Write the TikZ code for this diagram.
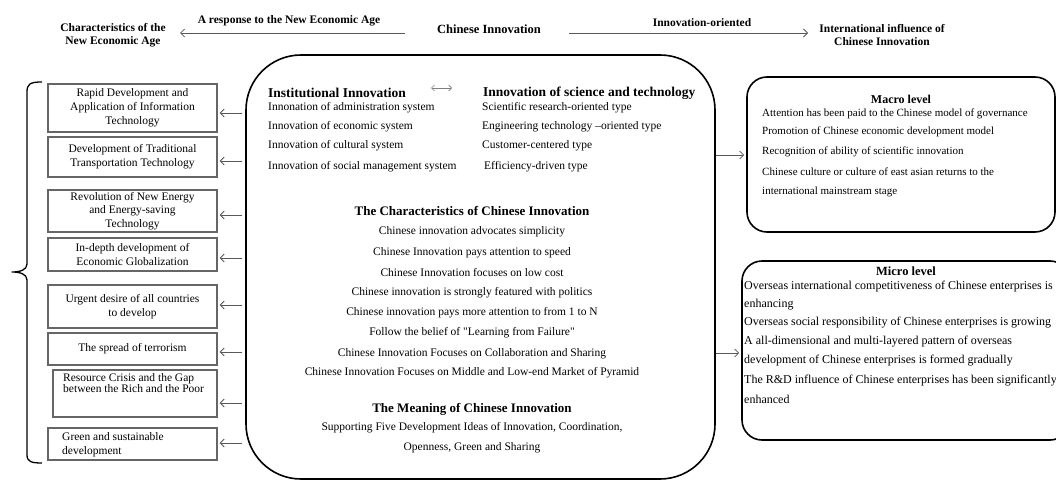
\documentclass[tikz,border=0pt]{standalone}
\usepackage{fontspec}
\setmainfont{Liberation Serif}
\newfontfamily\qfont{Liberation Serif}[Ligatures=TeXOff]
\usetikzlibrary{arrows.meta,calc}
\begin{document}
\begin{tikzpicture}[x=1pt,y=-1pt,
  arr/.style={draw=black!65, line width=0.8pt, -{Straight Barb[length=4pt,width=8pt]}},
  lbox/.style={draw=black!60, line width=1.3pt, minimum width=169pt, inner sep=1pt, align=center, font=\fontsize{11.5}{14}\selectfont},
  hdr/.style={font=\bfseries\fontsize{11.5}{13}\selectfont, align=center, inner sep=0pt},
  txt/.style={font=\fontsize{11.5}{13}\selectfont, inner sep=0pt},
  ttl/.style={font=\bfseries\fontsize{13.5}{14}\selectfont, inner sep=0pt},
  rbox/.style={draw=black, line width=1.6pt, rounded corners=20pt, inner sep=0pt}
]
\useasboundingbox (0,0) rectangle (1056,481);

% header
\node[hdr] (nea) at (113,35) {Characteristics of the\\New Economic Age};
\node[hdr, font=\bfseries\fontsize{12.5}{13}\selectfont] (ci) at (489,29) {Chinese Innovation};
\node[hdr] (iici) at (882,35) {International influence of\\Chinese Innovation};
\node[hdr] (lab1) at (289,21) {A response to the New Economic Age};
\node[hdr] (lab2) at (702,23) {Innovation-oriented};
\coordinate (a1s) at (405,33);
\coordinate (a1e) at (180,33);
\coordinate (a2s) at (569,33);
\coordinate (a2e) at (808,33);
\draw[arr] (a1s) -- (a1e);
\draw[arr] (a2s) -- (a2e);

% brace
\draw[line width=1.3pt, line join=round] (42,82) .. controls (30,82) and (27,84) .. (27,92) -- (27,264) .. controls (27,270) and (20,272) .. (12,272) .. controls (20,272) and (27,274) .. (27,280) -- (27,455) .. controls (27,462) and (32,463) .. (42,463);

% left boxes
\node[lbox, minimum height=48pt] (b1) at (132.5,108) {Rapid Development and\\Application of Information\\Technology};
\node[lbox, minimum height=40pt] (b2) at (132.5,157) {Development of Traditional\\Transportation Technology};
\node[lbox, minimum height=42pt, font=\fontsize{11.5}{13.5}\selectfont] (b3) at (132.5,211) {Revolution of New Energy\\and Energy-saving\\Technology};
\node[lbox, minimum height=33pt] (b4) at (132.5,254.5) {In-depth development of\\Economic Globalization};
\node[lbox, minimum height=43pt] (b5) at (132.5,306.5) {Urgent desire of all countries\\to develop};
\node[lbox, minimum height=32pt] (b6) at (132.5,349) {The spread of terrorism};
\node[lbox, minimum height=47pt, minimum width=164pt] (b7) at (135,393.5) {};
\node[txt, anchor=north west, align=left, font=\fontsize{11.5}{11.5}\selectfont] (b7t) at (63,373) {Resource Crisis and the Gap\\between the Rich and the Poor};
\node[lbox, minimum height=32pt] (b8) at (132.5,444) {};
\node[txt, anchor=north west, align=left, font=\fontsize{11.5}{14}\selectfont] (b8t) at (62,432) {Green and sustainable\\development};

% center box
\node[draw=black, line width=1.6pt, rounded corners=55pt, minimum width=469pt, minimum height=424pt, inner sep=0pt] (cb) at (480.5,267) {};

\foreach \b/\d in {b1/5,b2/4,b3/4,b4/3.5,b5/-1.5,b6/3,b7/9.5,b8/-1}{
  \draw[arr] ($(cb.west |- \b.east)+(-3,\d)$) -- ($(\b.east)+(2,\d)$);
}

% center contents
\node[ttl, anchor=west] (ii) at (268,93) {Institutional Innovation};
\node[ttl, anchor=west] (ist) at (483,93) {Innovation of science and technology};
\coordinate (dl) at (431,88);
\coordinate (dr) at (452,88);
\draw[draw=black!50, line width=0.7pt, {Straight Barb[length=3pt,width=6pt]}-{Straight Barb[length=3pt,width=6pt]}] (dl) -- (dr);
\node[txt, anchor=west] (ii1) at (268,108) {Innonation of administration system};
\node[txt, anchor=west] (ii2) at (268,127) {Innovation of economic system};
\node[txt, anchor=west] (ii3) at (268,146) {Innovation of cultural system};
\node[txt, anchor=west] (ii4) at (268,167) {Innovation of social management system};
\node[txt, anchor=west] (is1) at (482,108) {Scientific research-oriented type};
\node[txt, anchor=west] (is2) at (482,127) {Engineering technology --oriented type};
\node[txt, anchor=west] (is3) at (482,146) {Customer-centered type};
\node[txt, anchor=west] (is4) at (484,167) {Efficiency-driven type};

\node[ttl, font=\bfseries\fontsize{13}{14}\selectfont] (ch) at (472,211) {The Characteristics of Chinese Innovation};
\node[txt] (c1) at (472,232) {Chinese innovation advocates simplicity};
\node[txt] (c2) at (472,253) {Chinese Innovation pays attention to speed};
\node[txt] (c3) at (472,273) {Chinese Innovation focuses on low cost};
\node[txt] (c4) at (472,293) {Chinese innovation is strongly featured with politics};
\node[txt] (c5) at (472,313) {Chinese innovation pays more attention to from 1 to N};
\node[txt] (c6) at (472,333) {Follow the belief of {\qfont"}Learning from Failure{\qfont"}};
\node[txt] (c7) at (472,354) {Chinese Innovation Focuses on Collaboration and Sharing};
\node[txt] (c8) at (472,373) {Chinese Innovation Focuses on Middle and Low-end Market of Pyramid};
\node[ttl, font=\bfseries\fontsize{13}{14}\selectfont] (me) at (472,409) {The Meaning of Chinese Innovation};
\node[txt] (m1) at (472,428) {Supporting Five Development Ideas of Innovation, Coordination,};
\node[txt] (m2) at (472,448) {Openness, Green and Sharing};

% right boxes
\node[rbox, minimum width=308pt, minimum height=155pt] (mac) at (901,154.5) {};
\node[rbox, minimum width=328pt, minimum height=179pt] (mic) at (906,350.5) {};
\draw[arr] (cb.east |- 0,155) -- ($(mac.west |- 0,155)+(-2,0)$);
\draw[arr] (cb.east |- 0,353) -- ($(mic.west |- 0,353)+(-2,0)$);

\node[ttl, font=\bfseries\fontsize{12}{14}\selectfont] (mact) at (901,99) {Macro level};
\node[txt, anchor=west, font=\fontsize{11}{13}\selectfont] (ma1) at (762,114) {Attention has been paid to the Chinese model of governance};
\node[txt, anchor=west, font=\fontsize{11}{13}\selectfont] (ma2) at (762,132) {Promotion of Chinese economic development model};
\node[txt, anchor=west, font=\fontsize{11}{13}\selectfont] (ma3) at (762,152) {Recognition of ability of scientific innovation};
\node[txt, anchor=west, font=\fontsize{11}{13}\selectfont] (ma4) at (762,172) {Chinese culture or culture of east asian returns to the};
\node[txt, anchor=west, font=\fontsize{11}{13}\selectfont] (ma5) at (762,192) {international mainstream stage};

\node[ttl, font=\bfseries\fontsize{12.5}{14}\selectfont] (mict) at (906,271) {Micro level};
\node[txt, anchor=west, font=\fontsize{12}{13}\selectfont] (mi1) at (744,287) {Overseas international competitiveness of Chinese enterprises is};
\node[txt, anchor=west, font=\fontsize{12}{13}\selectfont] (mi2) at (744,305) {enhancing};
\node[txt, anchor=west, font=\fontsize{12}{13}\selectfont] (mi3) at (744,323) {Overseas social responsibility of Chinese enterprises is growing};
\node[txt, anchor=west, font=\fontsize{12}{13}\selectfont] (mi4) at (744,342) {A all-dimensional and multi-layered pattern of overseas};
\node[txt, anchor=west, font=\fontsize{12}{13}\selectfont] (mi5) at (744,361) {development of Chinese enterprises is formed gradually};
\node[txt, anchor=west, font=\fontsize{12}{13}\selectfont] (mi6) at (744,381) {The R\&D influence of Chinese enterprises has been significantly};
\node[txt, anchor=west, font=\fontsize{12}{13}\selectfont] (mi7) at (744,399) {enhanced};
\end{tikzpicture}
\end{document}
